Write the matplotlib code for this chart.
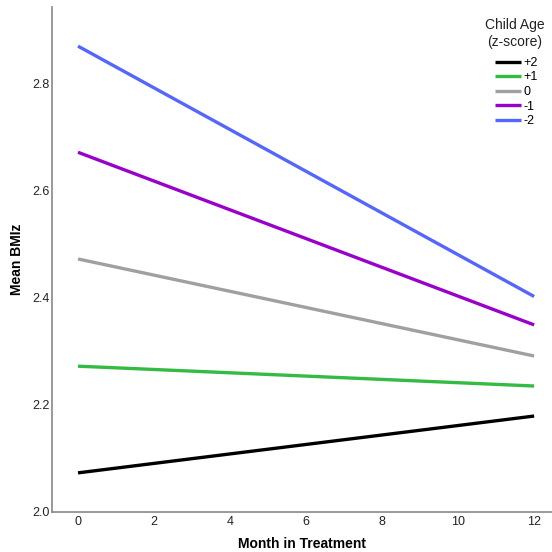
import matplotlib
matplotlib.use("Agg")
import matplotlib.pyplot as plt

plt.rcParams['font.family'] = ['Liberation Sans', 'DejaVu Sans']

months = [0, 12]
labels = ['+2', '+1', '0', '-1', '-2']
values = {
    '+2': [2.073, 2.179],
    '+1': [2.272, 2.235],
    '0': [2.472, 2.291],
    '-1': [2.671, 2.349],
    '-2': [2.869, 2.402],
}
colors = {'+2': '#000000', '+1': '#33bb44', '0': '#a0a0a0', '-1': '#9900cc', '-2': '#5566ff'}
xticks = [0, 2, 4, 6, 8, 10, 12]
yticks = [2.0, 2.2, 2.4, 2.6, 2.8]

fig = plt.figure(figsize=(5.52, 5.52), dpi=100)
ax = fig.add_axes([52/552, 1-512/552, 1-52/552, (512-7)/552])
for lab in labels:
    ax.plot(months, values[lab], color=colors[lab], lw=2.4, label=lab, solid_capstyle='butt')

ax.set_xlim(-0.684, 12.47)
ax.set_ylim(2.0, 2.942)
ax.set_xticks(xticks)
ax.set_xticklabels([str(t) for t in xticks])
ax.set_yticks(yticks)
ax.set_yticklabels([f"{t:.1f}" for t in yticks])
ax.tick_params(length=0, labelsize=9, colors='#222222', pad=2)
ax.tick_params(axis='x', pad=3)
for s in ['top', 'right']:
    ax.spines[s].set_visible(False)
for s in ['left', 'bottom']:
    ax.spines[s].set_color('#888888')
    ax.spines[s].set_linewidth(1.2)
ax.set_xlabel('Month in Treatment', fontsize=10, fontweight='bold', labelpad=6)
ax.set_ylabel('Mean BMIz', fontsize=10, fontweight='bold', labelpad=6)

fig.text(515/552, 1-33.5/552, 'Child Age\n(z-score)', ha='center', va='center',
         fontsize=10, color='#222222', linespacing=1.2)
leg = ax.legend(loc='upper left', bbox_to_anchor=(495/552, 1-57/552),
                bbox_transform=fig.transFigure,
                frameon=False, fontsize=9, handlelength=2.1,
                handletextpad=0.2, labelspacing=0.2, borderaxespad=0, borderpad=0)

fig.savefig('out.png', dpi=100)
